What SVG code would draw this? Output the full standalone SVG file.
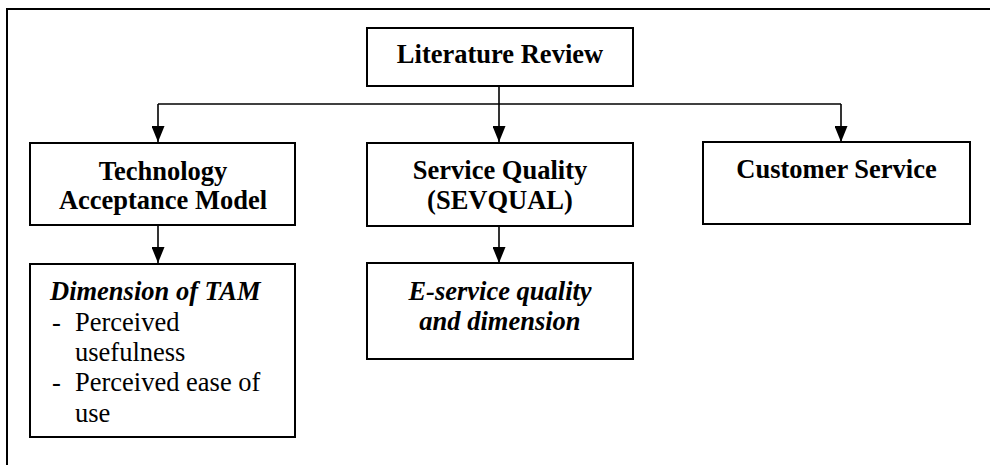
<svg xmlns="http://www.w3.org/2000/svg" width="990" height="465" viewBox="0 0 990 465">
<style>
.box{fill:#fff;stroke:#000;stroke-width:2}
.conn{fill:none;stroke:#000;stroke-width:1.6}
text{font-family:"Liberation Serif","DejaVu Serif","Times New Roman",Times,serif;font-size:26.5px;fill:#000}
.b{font-weight:bold;text-anchor:middle}
.bi{font-weight:bold;font-style:italic}
.c{text-anchor:middle}
</style>
<defs>
<marker id="ah" markerWidth="16" markerHeight="13" refX="16" refY="6.5" orient="auto" markerUnits="userSpaceOnUse" viewBox="0 0 16 13">
<path d="M0,0 L16,6.5 L0,13 Z" fill="#000"/>
</marker>
</defs>
<rect x="0" y="0" width="990" height="465" fill="#fff"/>
<rect x="7" y="9" width="1000" height="500" fill="none" stroke="#000" stroke-width="2"/>
<g id="connectors">
<path class="conn" d="M499,86 V104"/>
<path class="conn" d="M158,104 H841"/>
<path class="conn" d="M158,104 V142" marker-end="url(#ah)"/>
<path class="conn" d="M499,104 V142" marker-end="url(#ah)"/>
<path class="conn" d="M841,104 V142" marker-end="url(#ah)"/>
<path class="conn" d="M158,225 V263" marker-end="url(#ah)"/>
<path class="conn" d="M499,226 V263" marker-end="url(#ah)"/>
</g>
<g id="literature-review">
<rect class="box" x="367" y="28" width="266" height="58"/>
<text class="b" x="500" y="63" font-family="Liberation Serif, serif">Literature Review</text>
</g>
<g id="tam">
<rect class="box" x="30" y="143" width="265" height="82"/>
<text class="b" x="163" y="179.5">Technology</text>
<text class="b" x="163" y="209">Acceptance Model</text>
</g>
<g id="service-quality">
<rect class="box" x="367" y="143" width="266" height="83"/>
<text class="b" x="500" y="178.5">Service Quality</text>
<text class="b" x="500" y="208.5">(SEVQUAL)</text>
</g>
<g id="customer-service">
<rect class="box" x="703" y="142" width="267" height="82"/>
<text class="b" x="836.5" y="177.5">Customer Service</text>
</g>
<g id="dimension-tam">
<rect class="box" x="30" y="264" width="265" height="173"/>
<text class="bi" x="50" y="299.5">Dimension of TAM</text>
<text x="52" y="330.5">-</text>
<text x="75" y="330.5">Perceived</text>
<text x="75" y="361">usefulness</text>
<text x="52" y="391">-</text>
<text x="75" y="391">Perceived ease of</text>
<text x="75" y="421.5">use</text>
</g>
<g id="e-service">
<rect class="box" x="367" y="263" width="266" height="96"/>
<text class="bi c" x="500" y="299.5">E-service quality</text>
<text class="bi c" x="500" y="329.5">and dimension</text>
</g>
</svg>
